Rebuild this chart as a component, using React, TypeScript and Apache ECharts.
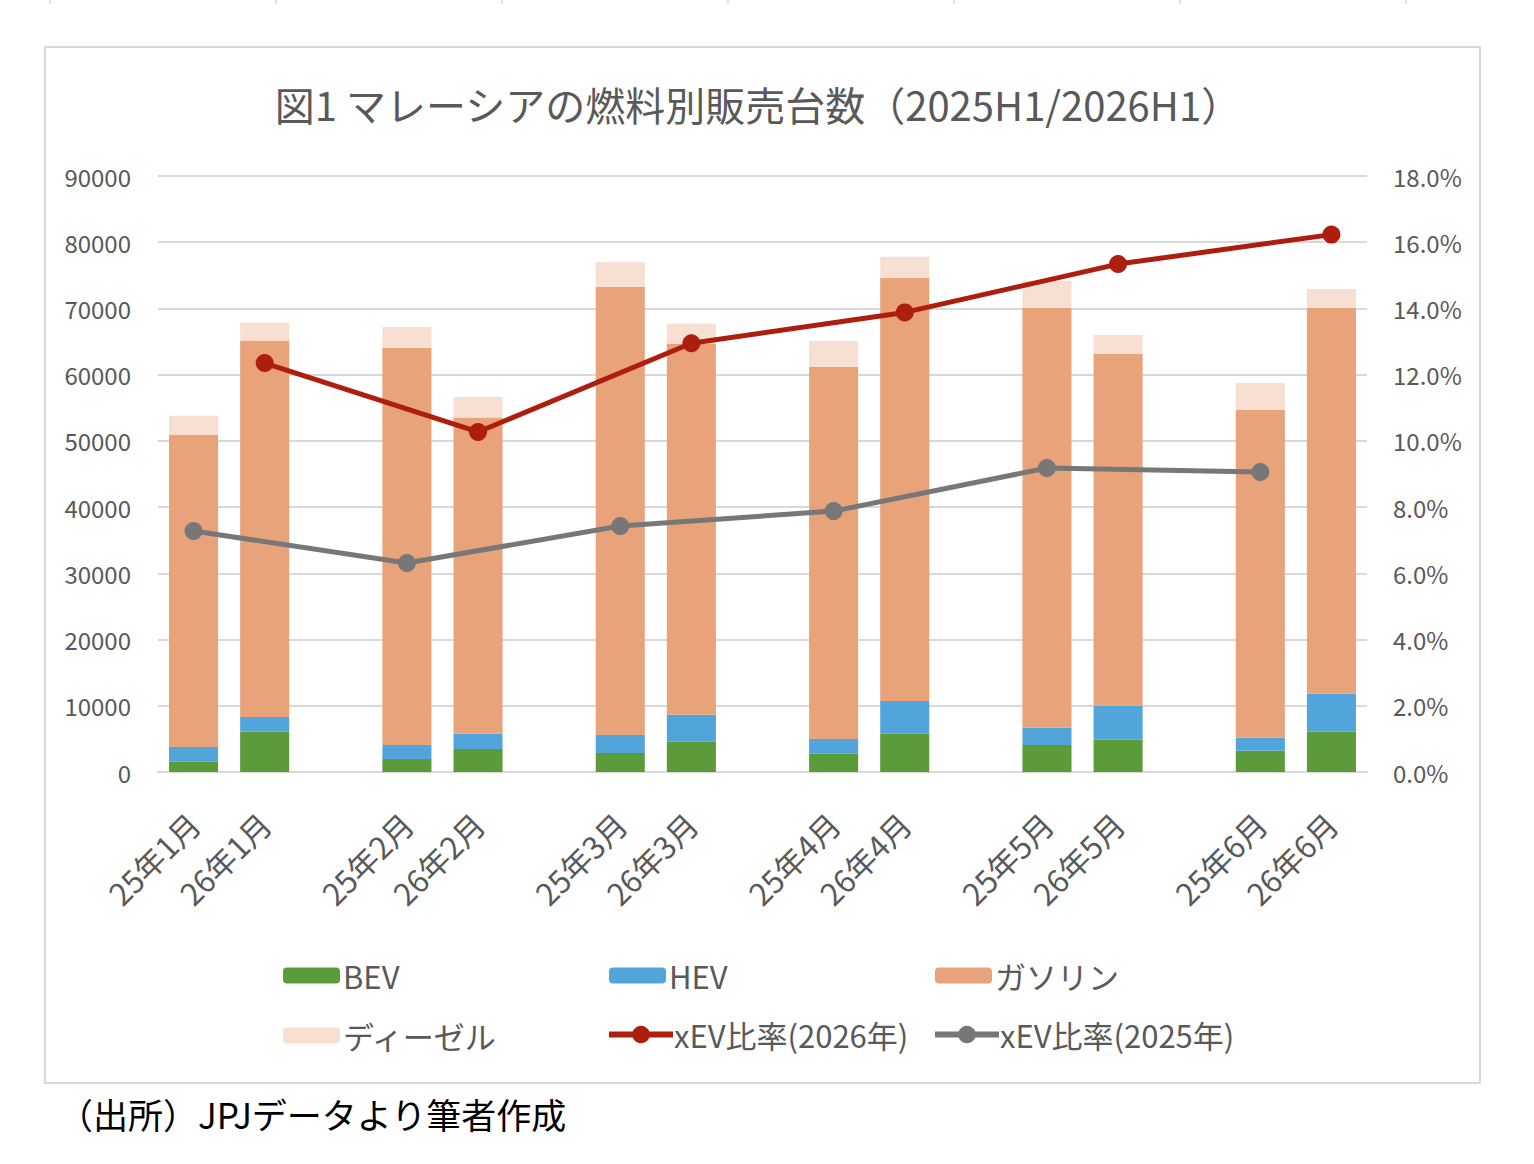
import React, { useEffect, useRef } from "react";
import * as echarts from "echarts";

const categories = [
  "25年1月", "26年1月", "",
  "25年2月", "26年2月", "",
  "25年3月", "26年3月", "",
  "25年4月", "26年4月", "",
  "25年5月", "26年5月", "",
  "25年6月", "26年6月",
];

const bev = [1560, 6090, null, 1960, 3470, null, 2870, 4580, null, 2770, 5790, null, 4080, 4880, null, 3220, 6090];
const hev = [2220, 2220, null, 2120, 2320, null, 2720, 4070, null, 2210, 4930, null, 2610, 5140, null, 1960, 5740];
const gasoline = [47120, 56840, null, 59950, 47730, null, 67670, 56050, null, 56200, 63900, null, 63400, 53110, null, 49490, 58260];
const diesel = [2900, 2720, null, 3170, 3110, null, 3760, 2970, null, 3920, 3180, null, 4110, 2870, null, 4080, 2850];

const xev2026 = [null, 0.1235, null, null, 0.1027, null, null, 0.1295, null, null, 0.1388, null, null, 0.1534, null, null, 0.1623];
const xev2025 = [0.0728, null, null, 0.0631, null, null, 0.0743, null, null, 0.0788, null, null, 0.0918, null, null, 0.0906, null];

const FONT = "'Noto Sans CJK JP', 'Noto Sans', sans-serif";
const TEXT = "#595959";
const GRID = "#D9D9D9";

export default function App() {
  const ref = useRef<HTMLDivElement>(null);
  useEffect(() => {
    document.body.style.margin = "0";
    const chart = echarts.init(ref.current!, null, { renderer: "svg" });
    const barSeries = (name: string, data: (number | null)[], color: string) => ({
      name,
      type: "bar",
      stack: "total",
      data,
      barWidth: "69%",
      itemStyle: { color },
      emphasis: { disabled: true },
    });
    const lineSeries = (name: string, data: (number | null)[], color: string) => ({
      name,
      type: "line",
      yAxisIndex: 1,
      data,
      connectNulls: true,
      symbol: "circle",
      symbolSize: 18,
      lineStyle: { color, width: 5 },
      itemStyle: { color },
      z: 10,
    });
    const legendBase = {
      orient: "horizontal",
      padding: 0,
      itemGap: 0,
      textStyle: { color: TEXT, fontSize: 31, fontFamily: FONT, padding: [0, 0, 0, -2] },
    };
    const lineLegend = (name: string, left: number) => ({
      ...legendBase,
      data: [{ name, itemStyle: { borderWidth: 0 }, lineStyle: { width: 6 } }],
      left,
      top: 1019,
      itemWidth: 64,
      itemHeight: 22,
      textStyle: { ...legendBase.textStyle, padding: [0, 0, 0, -4] },
    });
    chart.setOption({
      animation: false,
      textStyle: { fontFamily: FONT },
      grid: { left: 158, right: 167, top: 176, bottom: 392, containLabel: false },
      graphic: [
        {
          type: "rect",
          shape: { x: 45, y: 47, width: 1435, height: 1036 },
          style: { fill: "none", stroke: GRID, lineWidth: 2 },
        },
        ...[50, 276, 502, 728, 954, 1180, 1406].map((x) => ({
          type: "line",
          shape: { x1: x, y1: 0, x2: x, y2: 4 },
          style: { stroke: GRID, lineWidth: 1.5 },
        })),
        {
          type: "text",
          x: 758,
          y: 104,
          style: {
            text: "図1 マレーシアの燃料別販売台数（2025H1/2026H1）",
            fill: TEXT,
            fontSize: 40,
            fontFamily: FONT,
            align: "center",
            verticalAlign: "middle",
          },
        },
        {
          type: "text",
          x: 58,
          y: 1113,
          style: {
            text: "（出所）JPJデータより筆者作成",
            fill: "#000000",
            fontSize: 35,
            fontFamily: FONT,
            align: "left",
            verticalAlign: "middle",
          },
        },
      ],
      legend: [
        { ...legendBase, data: ["BEV"], left: 283, top: 960, itemWidth: 57, itemHeight: 16 },
        { ...legendBase, data: ["HEV"], left: 609, top: 960, itemWidth: 57, itemHeight: 16 },
        { ...legendBase, data: ["ガソリン"], left: 935, top: 960, itemWidth: 57, itemHeight: 16 },
        { ...legendBase, data: ["ディーゼル"], left: 283, top: 1020, itemWidth: 57, itemHeight: 16 },
        lineLegend("xEV比率(2026年)", 606),
        lineLegend("xEV比率(2025年)", 932),
      ],
      xAxis: {
        type: "category",
        data: categories,
        axisLine: { lineStyle: { color: GRID, width: 2 } },
        axisTick: { show: false },
        axisLabel: {
          interval: 0,
          rotate: 45,
          color: TEXT,
          fontSize: 31,
          fontFamily: FONT,
          margin: 46,
        },
      },
      yAxis: [
        {
          type: "value",
          min: 0,
          max: 90000,
          interval: 10000,
          axisLine: { show: false },
          axisTick: { show: false },
          splitLine: { lineStyle: { color: GRID, width: 2 } },
          axisLabel: {
            color: TEXT,
            fontSize: 24,
            fontFamily: FONT,
            margin: 27,
            formatter: (v: number) => String(v),
          },
        },
        {
          type: "value",
          min: 0,
          max: 0.18,
          interval: 0.02,
          axisLine: { show: false },
          axisTick: { show: false },
          splitLine: { show: false },
          axisLabel: {
            color: TEXT,
            fontSize: 24,
            fontFamily: FONT,
            margin: 26,
            formatter: (v: number) => (v * 100).toFixed(1) + "%",
          },
        },
      ],
      series: [
        barSeries("BEV", bev, "#5B9B39"),
        barSeries("HEV", hev, "#52A5DA"),
        barSeries("ガソリン", gasoline, "#E8A37B"),
        barSeries("ディーゼル", diesel, "#F7DFD2"),
        lineSeries("xEV比率(2026年)", xev2026, "#AD1E0E"),
        lineSeries("xEV比率(2025年)", xev2025, "#777777"),
      ],
    });
    return () => chart.dispose();
  }, []);
  return <div ref={ref} style={{ width: 1534, height: 1164 }} />;
}
